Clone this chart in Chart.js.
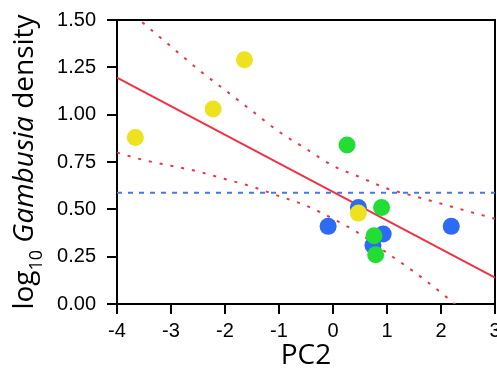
<!DOCTYPE html>
<html><head><meta charset="utf-8">
<script src="https://cdn.jsdelivr.net/npm/chart.js@4/dist/chart.umd.min.js"></script>
<style>html,body{margin:0;padding:0;background:#fff;}canvas{display:block;}</style>
</head><body><canvas id="c" width="497" height="375"></canvas>
<script>
const blueX = [-0.09, 0.47, 0.93, 0.74, 2.19];
const blueY = [0.41, 0.51, 0.37, 0.31, 0.41];
const greenX = [0.26, 0.90, 0.76, 0.79];
const greenY = [0.84, 0.51, 0.36, 0.26];
const yellowX = [-3.66, -2.22, -1.64, 0.47];
const yellowY = [0.88, 1.03, 1.29, 0.48];
const fitX = [-4, 3];
const fitY = [1.196, 0.139];
const meanX = [-4, 3];
const meanY = [0.588, 0.588];
const bandX = [-4, -3.5, -3, -2.5, -2, -1.5, -1, -0.5, 0, 0.5, 1, 1.5, 2, 2.5, 3];
const bandUpper = [1.60, 1.48, 1.36, 1.24, 1.13, 1.02, 0.91, 0.82, 0.73, 0.67, 0.61, 0.57, 0.53, 0.49, 0.45];
const bandLower = [0.80, 0.76, 0.73, 0.70, 0.66, 0.62, 0.57, 0.52, 0.45, 0.37, 0.27, 0.17, 0.06, -0.06, -0.18];
const xTicks = [-4, -3, -2, -1, 0, 1, 2, 3];
const yTicks = [0, 0.25, 0.5, 0.75, 1, 1.25, 1.5];
const xTitle = 'PC2';

const pts = (xs, ys) => xs.map((x, i) => ({ x: x, y: ys[i] }));
const RED = '#EE3344';

const frame = {
  id: 'frame',
  beforeDatasetsDraw(chart) {
    const { ctx, chartArea: a } = chart;
    ctx.save();
    ctx.strokeStyle = '#000';
    ctx.lineWidth = 2;
    ctx.beginPath();
    ctx.moveTo(a.left, a.top);
    ctx.lineTo(a.right, a.top);
    ctx.lineTo(a.right, a.bottom);
    ctx.stroke();
    ctx.restore();
  },
  afterDraw(chart) {
    const ctx = chart.ctx;
    const a = chart.chartArea;
    ctx.save();
    ctx.fillStyle = '#000';
    ctx.textBaseline = 'alphabetic';
    const parts = [
      { t: 'log', f: '28px "Open Sans"', dy: 0 },
      { t: '10', f: '18px "Open Sans"', dy: 9 },
      { t: ' ', f: '28px "Open Sans"', dy: 0 },
      { t: 'Gambusia', f: 'italic 28px "Open Sans"', dy: 0 },
      { t: ' density', f: '28px "Open Sans"', dy: 0 }
    ];
    let total = 0;
    parts.forEach(p => { ctx.font = p.f; p.w = ctx.measureText(p.t).width; total += p.w; });
    const cy = (a.top + a.bottom) / 2;
    ctx.translate(33, cy + total / 2);
    ctx.rotate(-Math.PI / 2);
    let x = 0;
    parts.forEach(p => { ctx.font = p.f; ctx.fillText(p.t, x, p.dy); x += p.w; });
    ctx.restore();
  }
};

const tickFont = { family: '"Liberation Sans", Arial, sans-serif', size: 20 };

new Chart(document.getElementById('c'), {
  type: 'scatter',
  data: {
    datasets: [
      { label: 'yellow', data: pts(yellowX, yellowY), backgroundColor: '#EEE21E', borderWidth: 0, pointRadius: 8.5, pointHoverRadius: 8.5, order: 1 },
      { label: 'green', data: pts(greenX, greenY), backgroundColor: '#22DD33', borderWidth: 0, pointRadius: 8.5, pointHoverRadius: 8.5, order: 2 },
      { label: 'blue', data: pts(blueX, blueY), backgroundColor: '#2B6BF5', borderWidth: 0, pointRadius: 8.5, pointHoverRadius: 8.5, order: 3 },
      { label: 'fit', data: pts(fitX, fitY), showLine: true, borderColor: RED, borderWidth: 2, pointRadius: 0, clip: 0, order: 5 },
      { label: 'upper', data: pts(bandX, bandUpper), showLine: true, borderColor: RED, borderWidth: 2, borderDash: [3, 8], pointRadius: 0, cubicInterpolationMode: 'monotone', clip: 0, order: 6 },
      { label: 'lower', data: pts(bandX, bandLower), showLine: true, borderColor: RED, borderWidth: 2, borderDash: [3, 8], pointRadius: 0, cubicInterpolationMode: 'monotone', clip: 0, order: 6 },
      { label: 'mean', data: pts(meanX, meanY), showLine: true, borderColor: '#4477EE', borderWidth: 2, borderDash: [5, 6], pointRadius: 0, clip: 0, order: 7 }
    ]
  },
  options: {
    responsive: false,
    devicePixelRatio: 1,
    animation: false,
    events: [],
    layout: { autoPadding: false, padding: { top: 20, right: 2, left: 0, bottom: 0 } },
    plugins: { legend: { display: false }, tooltip: { enabled: false } },
    scales: {
      x: {
        type: 'linear', min: -4, max: 3,
        afterBuildTicks: s => { s.ticks = xTicks.map(v => ({ value: v })); },
        afterFit: s => { s.height = 71; s.paddingLeft = 0; s.paddingRight = 0; },
        ticks: { font: tickFont, color: '#000', padding: 5, maxRotation: 0, autoSkip: false, callback: v => String(v) },
        grid: { drawOnChartArea: false, drawTicks: true, tickLength: 10, color: '#000', lineWidth: 2 },
        border: { display: true, color: '#000', width: 2 },
        title: { display: true, text: xTitle, color: '#000', font: { family: '"Open Sans"', size: 28 }, padding: { top: 0, bottom: 2 } }
      },
      y: {
        type: 'linear', min: 0, max: 1.5,
        afterBuildTicks: s => { s.ticks = yTicks.map(v => ({ value: v })); },
        afterFit: s => { s.width = 117; s.paddingTop = 0; s.paddingBottom = 0; },
        ticks: { font: tickFont, color: '#000', padding: 11, autoSkip: false, callback: v => v.toFixed(2) },
        grid: { drawOnChartArea: false, drawTicks: true, tickLength: 10, color: '#000', lineWidth: 2 },
        border: { display: true, color: '#000', width: 2 }
      }
    }
  },
  plugins: [frame]
});
</script>
</body></html>
